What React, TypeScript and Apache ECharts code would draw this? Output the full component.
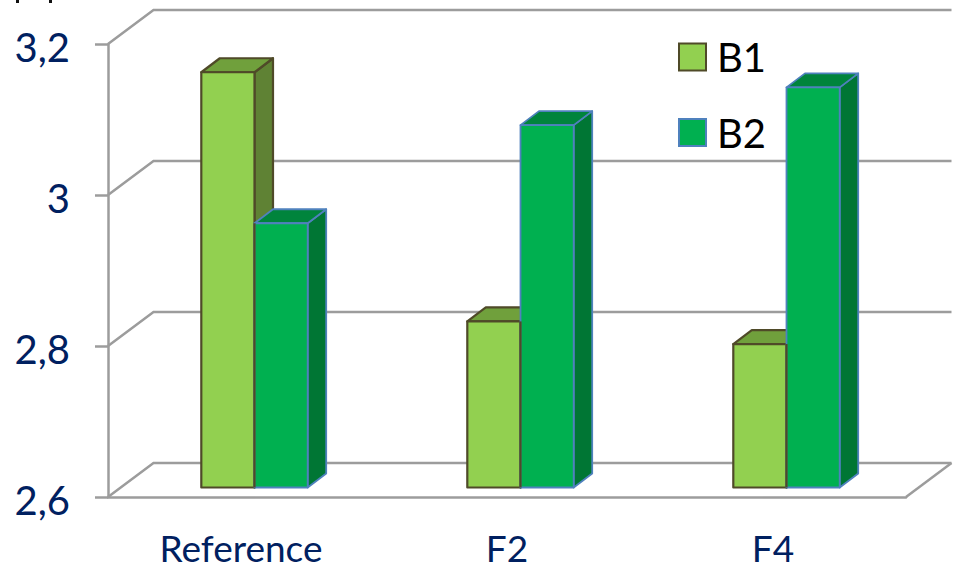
import React, { useEffect, useRef } from "react";
import * as echarts from "echarts";

const categories = ["Reference", "F2", "F4"];
const seriesNames = ["B1", "B2"];
const b1Values = [3.15, 2.82, 2.79];
const b2Values = [2.95, 3.08, 3.13];
const axisMin = 2.6;
const axisMax = 3.2;
const axisStep = 0.2;
const wallTicks = [2.6, 2.8, 3.0, 3.2];

const LINE = "#9c9c9c";
const LINE_WIDTH = 2.5;
const NAVY = "#002060";
const FONT = "Lato";

// Oblique projection offsets for the chart box and for the bars inside it.
const BOX_DX = 45.5;
const BOX_DY = -34;
const BAR_DX = 18.5;
const BAR_DY = -14;
const BAR_SHIFT_X = 13.5;
const BAR_SHIFT_Y = -9.5;
const BAR_WIDTH_RATIO = 0.2;

type Palette = { front: string; top: string; side: string; stroke: string; strokeWidth: number };

const b1Palette: Palette = { front: "#92d050", top: "#70a03c", side: "#5f8234", stroke: "#4f4a28", strokeWidth: 2.2 };
const b2Palette: Palette = { front: "#00b050", top: "#00843c", side: "#007634", stroke: "#4f81bd", strokeWidth: 1.8 };

// Draws one bar as three faces: side, top and front, shifted by the seat index.
// When a left neighbour is given, its darker edge stays visible along the shared side.
function barRenderer(seat: number, p: Palette, leftNeighbour?: number[], neighbourPalette?: Palette) {
  return (_params: any, api: any) => {
    const cat = api.value(0);
    const top = api.coord([cat, api.value(1)]);
    const base = api.coord([cat, axisMin]);
    const w = api.size([1, 0])[0] * BAR_WIDTH_RATIO;
    const x0 = top[0] + BAR_SHIFT_X + (seat - 1) * w;
    const x1 = x0 + w;
    const yTop = top[1] + BAR_SHIFT_Y;
    const yBase = base[1] + BAR_SHIFT_Y;
    const edge = { stroke: p.stroke, lineWidth: p.strokeWidth, lineJoin: "round" };
    const children: any[] = [
      {
        type: "polygon",
        shape: { points: [[x1, yTop], [x1 + BAR_DX, yTop + BAR_DY], [x1 + BAR_DX, yBase + BAR_DY], [x1, yBase]] },
        style: { fill: p.side, ...edge },
      },
      {
        type: "polygon",
        shape: { points: [[x0, yTop], [x0 + BAR_DX, yTop + BAR_DY], [x1 + BAR_DX, yTop + BAR_DY], [x1, yTop]] },
        style: { fill: p.top, ...edge },
      },
      {
        type: "rect",
        shape: { x: x0, y: yTop, width: w, height: yBase - yTop },
        style: { fill: p.front, ...edge },
      },
    ];
    if (leftNeighbour && neighbourPalette) {
      const neighbourTop = api.coord([cat, leftNeighbour[cat]])[1] + BAR_SHIFT_Y;
      children.push({
        type: "line",
        shape: { x1: x0, y1: Math.max(neighbourTop, yTop), x2: x0, y2: yBase },
        style: { stroke: neighbourPalette.stroke, lineWidth: neighbourPalette.strokeWidth },
      });
    }
    return { type: "group", children };
  };
}

// Draws each gridline along the left wall and the back wall, plus the floor's right edge.
function wallRenderer(params: any, api: any) {
  const sys = params.coordSys;
  const v = api.value(0);
  const y = api.coord([0, v])[1];
  const left = sys.x;
  const right = sys.x + sys.width;
  const children: any[] = [
    {
      type: "polyline",
      shape: { points: [[left, y], [left + BOX_DX, y + BOX_DY], [right + BOX_DX, y + BOX_DY]] },
      style: { fill: "none", stroke: LINE, lineWidth: LINE_WIDTH },
    },
  ];
  if (v === axisMin) {
    children.push({
      type: "line",
      shape: { x1: right, y1: y, x2: right + BOX_DX, y2: y + BOX_DY },
      style: { stroke: LINE, lineWidth: LINE_WIDTH },
    });
  }
  return { type: "group", children };
}

export default function App() {
  const ref = useRef<HTMLDivElement>(null);
  useEffect(() => {
    if (!ref.current) return;
    const chart = echarts.init(ref.current, undefined, { renderer: "svg" });
    const barData = (vals: number[]) => vals.map((v, i) => [i, v]);
    const legendStyle = (p: Palette) => ({
      color: p.front,
      borderColor: p.stroke,
      borderWidth: p.strokeWidth,
    });
    chart.setOption({
      animation: false,
      backgroundColor: "#ffffff",
      textStyle: { fontFamily: FONT },
      grid: { left: 108, right: 49, top: 44, bottom: 72 },
      legend: {
        orient: "vertical",
        left: 678,
        top: 37,
        padding: 0,
        itemWidth: 27,
        itemHeight: 27,
        itemGap: 35.5,
        data: seriesNames,
        icon: "rect",
        textStyle: { fontFamily: FONT, fontSize: 40, color: "#000000", padding: [0, 0, 0, 6] },
      },
      // Clipped strokes of a caption that runs off the top edge.
      graphic: [
        { type: "rect", shape: { x: 16, y: 0, width: 3, height: 3 }, style: { fill: "#111111" } },
        { type: "rect", shape: { x: 49, y: 0, width: 3, height: 3 }, style: { fill: "#111111" } },
      ],
      xAxis: {
        type: "category",
        data: categories,
        axisLine: { lineStyle: { color: LINE, width: LINE_WIDTH } },
        axisTick: { show: false },
        axisLabel: { fontFamily: FONT, fontSize: 37, lineHeight: 36, color: NAVY, margin: 32 },
      },
      yAxis: {
        type: "value",
        min: axisMin,
        max: axisMax,
        interval: axisStep,
        splitLine: { show: false },
        axisLine: { show: true, lineStyle: { color: LINE, width: LINE_WIDTH } },
        axisTick: { show: true, length: 13, lineStyle: { color: LINE, width: LINE_WIDTH } },
        axisLabel: {
          fontFamily: FONT,
          fontSize: 40,
          color: NAVY,
          margin: 38,
          // A short line box hung from the tick sets the digits slightly below it.
          verticalAlign: "top",
          lineHeight: 6,
          formatter: (v: number) => String(v).replace(".", ","),
        },
      },
      series: [
        {
          type: "custom",
          name: "walls",
          silent: true,
          renderItem: wallRenderer,
          data: wallTicks.map((v) => [v]),
          encode: { y: 0 },
          z: 1,
        },
        {
          type: "custom",
          name: seriesNames[0],
          renderItem: barRenderer(0, b1Palette),
          data: barData(b1Values),
          encode: { x: 0, y: 1 },
          itemStyle: legendStyle(b1Palette),
          z: 2,
        },
        {
          type: "custom",
          name: seriesNames[1],
          renderItem: barRenderer(1, b2Palette, b1Values, b1Palette),
          data: barData(b2Values),
          encode: { x: 0, y: 1 },
          itemStyle: legendStyle(b2Palette),
          z: 3,
        },
      ],
    });
    return () => chart.dispose();
  }, []);
  return <div ref={ref} style={{ position: "absolute", left: 0, top: 0, width: 955, height: 569 }} />;
}
